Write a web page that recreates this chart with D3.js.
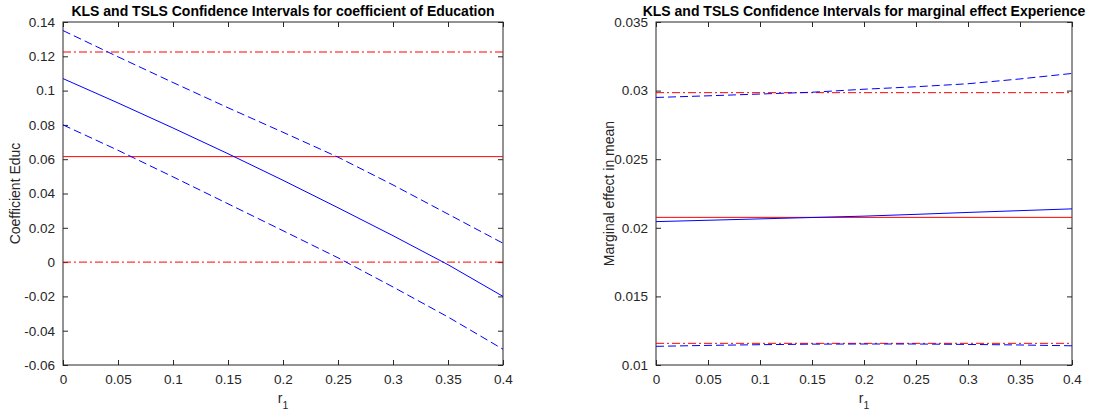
<!DOCTYPE html>
<html>
<head>
<meta charset="utf-8">
<script src="https://cdn.jsdelivr.net/npm/d3@7"></script>
<style>
  body { margin: 0; background: #fff; }
  svg { display: block; font-family: "Liberation Sans", Arial, sans-serif; }
</style>
</head>
<body>
<div id="chart"></div>
<script>
// r_1 grid shared by both panels
const r1 = [0, 0.05, 0.1, 0.15, 0.2, 0.25, 0.3, 0.35, 0.4];

// left panel: coefficient of Education
const educKlsUpper = [0.135, 0.1197, 0.1047, 0.0900, 0.0757, 0.0612, 0.0450, 0.0280, 0.0110];
const educKls = [0.107, 0.0928, 0.0782, 0.0632, 0.0477, 0.0317, 0.0154, -0.0015, -0.0200];
const educKlsLower = [0.080, 0.0652, 0.0497, 0.0340, 0.0183, 0.0025, -0.0145, -0.0320, -0.0508];
const educTsls = [0.1225, 0.0615, 0.0];   // upper, estimate, lower
const educTicks = [-0.06, -0.04, -0.02, 0, 0.02, 0.04, 0.06, 0.08, 0.1, 0.12, 0.14];

// right panel: marginal effect of Experience
const expKlsUpper = [0.0295, 0.02962, 0.02975, 0.02988, 0.0301, 0.03028, 0.0305, 0.03085, 0.03125];
const expKls = [0.02045, 0.02055, 0.02065, 0.02075, 0.02085, 0.02098, 0.02112, 0.02125, 0.02138];
const expKlsLower = [0.01136, 0.01143, 0.01148, 0.01152, 0.01153, 0.01153, 0.0115, 0.01146, 0.0114];
const expTsls = [0.02985, 0.02076, 0.01158];
const expTicks = [0.01, 0.015, 0.02, 0.025, 0.03, 0.035];

const xTicks = [0, 0.05, 0.1, 0.15, 0.2, 0.25, 0.3, 0.35, 0.4];

const W = 1111, H = 417;
const svg = d3.select("#chart").append("svg").attr("width", W).attr("height", H);

const axisColor = "#262626";
const DASH = "8,4", DASHDOT = "8,3,2,3";

function panel(opts) {
  const x = d3.scaleLinear().domain([0, 0.4]).range([opts.left, opts.right]);
  const y = d3.scaleLinear().domain(opts.ydomain).range([365, 22]);
  const g = svg.append("g");

  // box
  g.append("rect")
    .attr("x", opts.left).attr("y", 22)
    .attr("width", opts.right - opts.left).attr("height", 343)
    .attr("fill", "none").attr("stroke", axisColor).attr("stroke-width", 1);

  // axes with inward ticks, mirrored on top/right
  const fmt = d => String(+d.toFixed(4));
  const ax = g.append("g").attr("transform", `translate(0,365)`)
    .call(d3.axisBottom(x).tickValues(xTicks).tickSizeInner(-5).tickSizeOuter(0).tickPadding(9).tickFormat(fmt));
  const axTop = g.append("g").attr("transform", `translate(0,22)`)
    .call(d3.axisTop(x).tickValues(xTicks).tickSizeInner(-5).tickSizeOuter(0).tickFormat(""));
  const ay = g.append("g").attr("transform", `translate(${opts.left},0)`)
    .call(d3.axisLeft(y).tickValues(opts.ticks).tickSizeInner(-5).tickSizeOuter(0).tickPadding(8).tickFormat(fmt));
  const ayR = g.append("g").attr("transform", `translate(${opts.right},0)`)
    .call(d3.axisRight(y).tickValues(opts.ticks).tickSizeInner(-5).tickSizeOuter(0).tickFormat(""));
  [ax, axTop, ay, ayR].forEach(a => {
    a.select(".domain").remove();
    a.selectAll("line").attr("stroke", axisColor);
    a.selectAll("text").attr("fill", axisColor).style("font-size", "13.5px").attr("font-family", null);
  });

  const clip = "clip" + opts.id;
  g.append("clipPath").attr("id", clip).append("rect")
    .attr("x", opts.left).attr("y", 22).attr("width", opts.right - opts.left).attr("height", 343);
  const plot = g.append("g").attr("clip-path", `url(#${clip})`);

  // TSLS horizontal lines (red)
  opts.tsls.forEach((v, i) => {
    plot.append("line")
      .attr("x1", x(0)).attr("x2", x(0.4)).attr("y1", y(v)).attr("y2", y(v))
      .attr("stroke", "#ff0000").attr("stroke-width", 1)
      .attr("stroke-dasharray", i === 1 ? null : DASHDOT);
  });

  // KLS curves (blue)
  const line = d3.line().x((d, i) => x(r1[i])).y(d => y(d));
  [[opts.upper, DASH], [opts.mid, null], [opts.lower, DASH]].forEach(([s, dash]) => {
    plot.append("path").datum(s).attr("d", line)
      .attr("fill", "none").attr("stroke", "#0000ff").attr("stroke-width", 1)
      .attr("stroke-dasharray", dash);
  });

  // title
  g.append("text")
    .attr("x", (opts.left + opts.right) / 2).attr("y", 16)
    .attr("text-anchor", "middle").attr("font-weight", "bold")
    .style("font-size", "14px").attr("fill", "#000")
    .text(opts.title);

  // x label r_1
  const xl = g.append("text")
    .attr("x", (opts.left + opts.right) / 2).attr("y", 403)
    .attr("text-anchor", "middle").attr("fill", axisColor).style("font-size", "14px");
  xl.append("tspan").text("r");
  xl.append("tspan").attr("dy", 6).style("font-size", "10.5px").text("1");

  // y label
  g.append("text")
    .attr("transform", `translate(${opts.ylabelX},${(22 + 365) / 2}) rotate(-90)`)
    .attr("text-anchor", "middle").attr("fill", axisColor).style("font-size", "14px")
    .text(opts.ylabel);
}

panel({
  id: "a", left: 63, right: 503, ydomain: [-0.06, 0.14], ticks: educTicks,
  upper: educKlsUpper, mid: educKls, lower: educKlsLower, tsls: educTsls,
  title: "KLS and TSLS Confidence Intervals for coefficient of Education",
  ylabel: "Coefficient Educ", ylabelX: 20
});

panel({
  id: "b", left: 656, right: 1072, ydomain: [0.01, 0.035], ticks: expTicks,
  upper: expKlsUpper, mid: expKls, lower: expKlsLower, tsls: expTsls,
  title: "KLS and TSLS Confidence Intervals for marginal effect Experience",
  ylabel: "Marginal effect in mean", ylabelX: 614
});
</script>
</body>
</html>
